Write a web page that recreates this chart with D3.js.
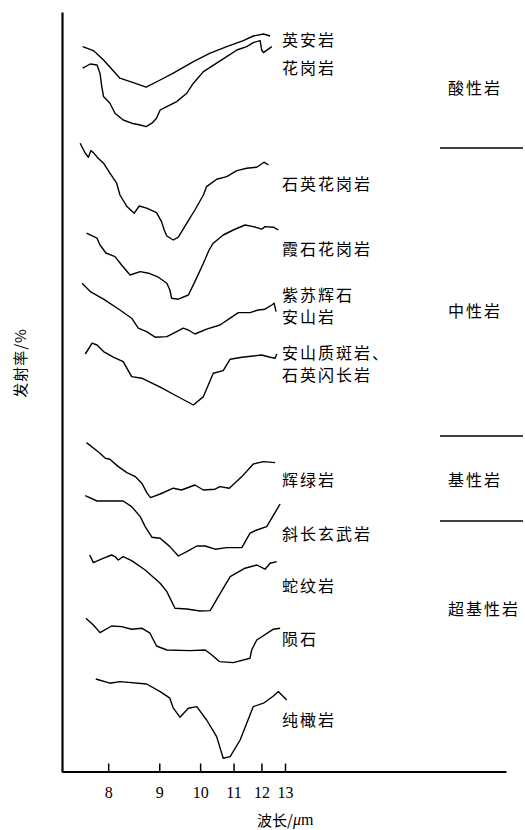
<!DOCTYPE html>
<html><head><meta charset="utf-8">
<script src="https://cdn.jsdelivr.net/npm/d3@7"></script>
<style>
html,body{margin:0;padding:0;background:#fff;}
svg{display:block;}
.cjk{font-family:"Noto Sans CJK SC","Noto Sans CJK JP",sans-serif;fill:#000;}
.num{font-family:"Liberation Serif","DejaVu Serif",serif;fill:#000;}
</style></head>
<body>
<svg id="chart" width="525" height="830"></svg>
<script>
// ---- DATA (wavelength µm, relative emissivity units, curves are vertically offset) ----
const tickLabels = [8, 9, 10, 11, 12, 13];
const rockNames = ["英安岩","花岗岩","石英花岗岩","霞石花岗岩","紫苏辉石安山岩","安山质斑岩、石英闪长岩","辉绿岩","斜长玄武岩","蛇纹岩","陨石","纯橄岩"];
const groupNames = ["酸性岩","中性岩","基性岩","超基性岩"];

const dacite = [[7.58,362.7],[7.75,360.7],[7.92,356],[8.21,346.9],[8.46,344.7],[8.72,342.4],[9.02,346],[9.32,349.4],[9.82,355.2],[10.28,359.4],[10.78,362.7],[11.33,365.7],[11.69,368],[12.08,369],[12.35,368]];
const granite = [[7.58,351.9],[7.70,354],[7.81,353.5],[7.86,349.4],[7.89,342.7],[7.92,337.7],[8.03,334.4],[8.12,329.4],[8.27,326],[8.43,324.4],[8.60,323.5],[8.72,322.7],[8.84,324.4],[8.94,326.9],[9.02,331],[9.17,332.7],[9.40,335.2],[9.65,339.4],[9.82,344.4],[10.09,350.2],[10.47,354.4],[10.78,357.7],[11.11,361],[11.45,362.7],[11.69,364.7],[11.95,365.7],[12.01,361],[12.08,359.7],[12.42,362.7]];
const quartzGranite = [[7.54,314.4],[7.62,309.4],[7.67,307.4],[7.71,310.7],[7.75,309.7],[7.83,306.9],[7.92,304.4],[8.03,299.4],[8.15,294.4],[8.21,288.5],[8.34,282.7],[8.48,279.4],[8.58,283],[8.73,281.9],[8.94,279.7],[9.05,275.2],[9.11,271],[9.17,268],[9.32,266],[9.44,267.4],[9.65,274.4],[9.86,281],[10.09,288.5],[10.18,292.7],[10.47,296.4],[10.78,297.7],[11.11,300.7],[11.45,301.9],[11.82,302.4],[12.10,304.9],[12.28,303.5]];
const nephelineGranite = [[7.64,269.4],[7.81,266.9],[7.86,263.5],[7.96,259.5],[8.12,257.7],[8.24,253.5],[8.40,248.5],[8.60,250.2],[8.77,249.4],[8.98,247.4],[9.17,244.4],[9.24,241],[9.28,236.9],[9.44,236.4],[9.69,238.5],[9.86,245.2],[10.09,254.4],[10.25,261],[10.37,264.4],[10.67,268.5],[10.99,271],[11.39,273.5],[11.69,272.7],[12.01,271.4],[12.14,272.7],[12.49,272.4],[12.70,271]];
const hypersAndesite = [[7.57,244.4],[7.70,240.2],[7.92,236.4],[8.21,231],[8.43,226.9],[8.56,221.9],[8.73,220.2],[8.91,217.4],[9.17,217.7],[9.40,220.2],[9.56,221.9],[9.69,221],[9.86,219],[10.18,221.4],[10.57,223.5],[10.89,226.9],[11.16,229.7],[11.57,229.7],[11.88,231],[12.14,231.4],[12.42,233.5],[12.52,234.4],[12.60,230.2]];
const andesitePorphyry = [[7.62,209],[7.73,214.4],[7.81,213.5],[7.92,210.2],[8.09,207.4],[8.27,205.2],[8.43,197.7],[8.63,196.9],[9.02,192.4],[9.40,188],[9.82,183.5],[10.09,187.7],[10.37,199.4],[10.67,200.7],[10.89,206.4],[11.28,207.4],[11.69,208],[12.01,208.5],[12.35,207.4],[12.56,206.9],[12.63,209]];
const diabase = [[7.64,164.7],[7.86,159.4],[7.95,156.9],[8.03,156.4],[8.18,152.7],[8.34,149.7],[8.50,147.7],[8.63,144.4],[8.74,139.4],[8.81,137.2],[9.02,139],[9.32,141.9],[9.52,141],[9.86,143.5],[10.09,141],[10.42,141.4],[10.57,142.7],[10.86,141.9],[11.28,147.7],[11.69,154],[12.08,155.2],[12.56,154.7]];
const plagioBasalt = [[7.62,138.2],[7.81,135.5],[8.27,135.5],[8.43,132.7],[8.60,127.7],[8.70,122.7],[8.84,117.4],[9.02,116.9],[9.24,112.7],[9.44,108],[9.65,110.2],[9.91,113],[10.14,113],[10.42,111.4],[10.78,112.2],[11.28,112.2],[11.57,119.4],[11.82,121],[12.21,122.7],[12.78,134]];
const serpentinite = [[7.69,108.5],[7.75,104.7],[7.92,106.9],[8.06,108.5],[8.12,107.7],[8.18,106],[8.27,107.7],[8.43,105.7],[8.70,101],[9.02,94.4],[9.17,90.2],[9.36,81.9],[9.65,81.5],[10.00,80.5],[10.28,80.7],[10.52,87.7],[10.89,97.7],[11.39,101.9],[11.82,103.5],[12.14,101.4],[12.35,104.4],[12.63,105.2]];
const meteorite = [[7.63,76.9],[7.75,73.5],[7.86,69.7],[8.06,73],[8.24,72.7],[8.43,71.4],[8.63,71.9],[8.80,69.4],[8.94,63],[9.17,61],[9.73,60.7],[10.14,61],[10.33,58.5],[10.55,55.2],[10.99,54.7],[11.57,56.9],[11.63,61],[11.82,66],[12.49,71.4],[12.78,71.9]];
const dunite = [[7.79,46.5],[8.03,44.4],[8.21,45.2],[8.73,44],[9.02,40.2],[9.24,36.9],[9.32,31.9],[9.48,27.4],[9.69,31.9],[9.91,32.7],[10.18,26],[10.47,17.7],[10.67,6.9],[10.89,7.7],[11.22,16],[11.69,32.7],[12.08,34.4],[12.49,38],[12.70,40.2],[13.08,36]];

const seriesList = [dacite, granite, quartzGranite, nephelineGranite, hypersAndesite, andesitePorphyry, diabase, plagioBasalt, serpentinite, meteorite, dunite];

// label rows (relative units, same scale as curves)
const labelRows = [
  {t:"英安岩", v:366.5}, {t:"花岗岩", v:352.5},
  {t:"石英花岗岩", v:294.5}, {t:"霞石花岗岩", v:262},
  {t:"紫苏辉石", v:239}, {t:"安山岩", v:228},
  {t:"安山质斑岩、", v:210}, {t:"石英闪长岩", v:199},
  {t:"辉绿岩", v:146.5}, {t:"斜长玄武岩", v:119.5},
  {t:"蛇纹岩", v:93.5}, {t:"陨石", v:67}, {t:"纯橄岩", v:26.5}
];
const groupLabelV = [342.5, 231, 146.5, 82];
const groupDividerV = [312, 168, 125.5];

// ---- DRAW ----
const svg = d3.select("#chart");
// x: linear in wavenumber (1/λ), labelled in wavelength
const x = d3.scaleLinear().domain([1375.6, 168.3]).range([62, 506]);
const xw = l => x(10000 / l);
const y = d3.scaleLinear().domain([0, 380]).range([772, 12]);

const line = d3.line().x(d => xw(d[0])).y(d => y(d[1]));

svg.append("g").selectAll("path").data(seriesList).join("path")
  .attr("d", line).attr("fill", "none").attr("stroke", "#000")
  .attr("stroke-width", 1.4).attr("stroke-linejoin", "round");

// axes
const xAxis = d3.axisBottom(x)
  .tickValues(tickLabels.map(l => 10000 / l))
  .tickFormat(d => Math.round(10000 / d))
  .tickSizeInner(-8).tickSizeOuter(0).tickPadding(15);
const gx = svg.append("g").attr("transform", `translate(0,${y(0) - 0.5})`).call(xAxis);
gx.select(".domain").attr("stroke-width", 2.2);
gx.selectAll(".tick line").attr("stroke-width", 1.5);
gx.selectAll(".tick text").attr("class", "num").attr("font-size", 16).attr("fill", "#000");

const yAxis = d3.axisLeft(y).tickValues([]).tickSizeOuter(0);
const gy = svg.append("g").attr("transform", `translate(62,0)`).call(yAxis);
gy.select(".domain").attr("stroke-width", 2.2);

// curve labels
svg.append("g").selectAll("text").data(labelRows).join("text")
  .attr("class", "cjk").attr("x", 282).attr("y", d => y(d.v))
  .attr("dominant-baseline", "central")
  .attr("font-size", 16).attr("letter-spacing", 2)
  .text(d => d.t);

// group labels
svg.append("g").selectAll("text").data(groupNames).join("text")
  .attr("class", "cjk").attr("x", 448).attr("y", (d, i) => y(groupLabelV[i]))
  .attr("dominant-baseline", "central")
  .attr("font-size", 16).attr("letter-spacing", 2)
  .text(d => d);

svg.append("g").selectAll("line").data(groupDividerV).join("line")
  .attr("x1", 440).attr("x2", 523)
  .attr("y1", d => y(d)).attr("y2", d => y(d))
  .attr("stroke", "#000").attr("stroke-width", 1.5);

// axis titles
const xt = svg.append("text").attr("x", 257).attr("y", 819)
  .attr("dominant-baseline", "central").attr("font-size", 15);
xt.append("tspan").attr("class", "cjk").text("波长/");
xt.append("tspan").attr("class", "num").attr("font-style", "italic").attr("font-size", 16).text("μ");
xt.append("tspan").attr("class", "num").attr("font-size", 16).text("m");

svg.append("text").attr("class", "cjk")
  .attr("transform", "translate(19,363) rotate(-90)")
  .attr("text-anchor", "middle").attr("dominant-baseline", "central")
  .attr("font-size", 15).attr("letter-spacing", 1)
  .text("发射率/%");
</script>
</body></html>
